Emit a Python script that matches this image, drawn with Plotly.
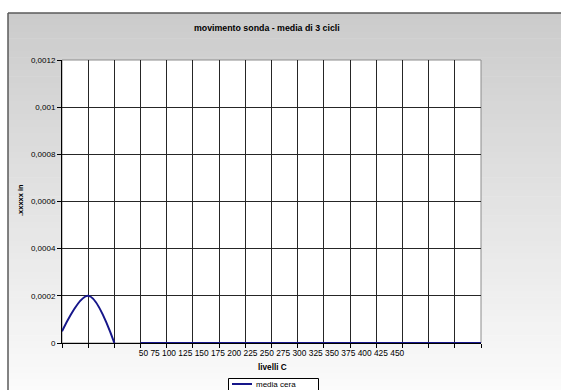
import plotly.graph_objects as go

# Livelli C: posizione di categoria (None = interruzione della linea)
livello_idx = [0, 1, 2, None, 3, 4, 5, 6, 7, 8, 9, 10, 11, 12, 13, 14, 15, 16]
media_cera = [0.00005, 0.0002, 0, None, 0, 0, 0, 0, 0, 0, 0, 0, 0, 0, 0, 0, 0, 0]
serie_nome = "media cera"

# Etichette dell'asse delle categorie
livelli_etichette = ["50", "75", "100", "125", "150", "175", "200", "225", "250",
                     "275", "300", "325", "350", "375", "400", "425", "450"]

y_ticks = [0, 0.0002, 0.0004, 0.0006, 0.0008, 0.001, 0.0012]
y_tick_text = ["0", "0,0002", "0,0004", "0,0006", "0,0008", "0,001", "0,0012"]

W, H = 561, 390
L, R, T, B = 62, 80, 60, 47
PW, PH = W - L - R, H - T - B


def px_x(px):
    return (px - L) / PW


def px_y(py):
    return (H - B - py) / PH


FONT = "Liberation Sans, Arial, Helvetica, sans-serif"
LINE_COLOR = "#16168a"
n_cat = 17
x_tickvals = list(range(n_cat))
x_ticktext = [""] * n_cat
x_ticktext[8] = " ".join(livelli_etichette)

fig = go.Figure()
fig.add_trace(go.Scatter(
    x=livello_idx, y=media_cera, mode="lines", name=serie_nome,
    line=dict(color=LINE_COLOR, width=2, shape="spline"),
    connectgaps=False, showlegend=False,
))

# Sfondo dell'area del grafico: sfumatura grigia verticale
shapes = []
top_px, bot_px = 13, 392
steps = 60
c_top, c_bot = 203, 251
for i in range(steps):
    y0 = top_px + (bot_px - top_px) * i / steps
    y1 = top_px + (bot_px - top_px) * (i + 1) / steps + 0.6
    c = round(c_top + (c_bot - c_top) * (i + 0.5) / steps)
    shapes.append(dict(type="rect", xref="paper", yref="paper",
                       x0=px_x(8), x1=px_x(W + 5), y0=px_y(y1), y1=px_y(y0),
                       fillcolor=f"rgb({c},{c},{c})", line=dict(width=0),
                       layer="below"))
# Area del tracciato bianca
shapes.append(dict(type="rect", xref="paper", yref="paper", x0=0, x1=1, y0=0, y1=1,
                   fillcolor="white", line=dict(color="#8c8c8c", width=1), layer="below"))
# Bordo dell'area del grafico
shapes.append(dict(type="line", xref="paper", yref="paper",
                   x0=px_x(8), x1=px_x(W + 5), y0=px_y(13), y1=px_y(13),
                   line=dict(color="#5a5a5a", width=1.5)))
shapes.append(dict(type="line", xref="paper", yref="paper",
                   x0=px_x(8), x1=px_x(8), y0=px_y(13), y1=px_y(H + 5),
                   line=dict(color="#5a5a5a", width=1.5)))
# Riquadro della legenda
shapes.append(dict(type="rect", xref="paper", yref="paper",
                   x0=px_x(228.5), x1=px_x(318.5), y0=px_y(H + 5), y1=px_y(378.5),
                   fillcolor="white", line=dict(color="black", width=1)))
shapes.append(dict(type="line", xref="paper", yref="paper",
                   x0=px_x(232), x1=px_x(252), y0=px_y(384), y1=px_y(384),
                   line=dict(color=LINE_COLOR, width=2)))

annotations = [
    dict(text="<b>movimento sonda - media di 3 cicli</b>", xref="paper", yref="paper",
         x=px_x(267), y=px_y(28), showarrow=False, font=dict(size=8.8, color="black", family=FONT),
         xanchor="center", yanchor="middle"),
    dict(text="<b>livelli C</b>", xref="paper", yref="paper",
         x=px_x(272), y=px_y(367), showarrow=False, font=dict(size=8.2, color="black", family=FONT),
         xanchor="center", yanchor="middle"),
    dict(text="<b>.xxxxx in</b>", xref="paper", yref="paper", textangle=-90,
         x=px_x(20), y=px_y(200), showarrow=False, font=dict(size=7.5, color="black", family=FONT),
         xanchor="center", yanchor="middle"),
    dict(text=serie_nome, xref="paper", yref="paper",
         x=px_x(254), y=px_y(384.5), showarrow=False, font=dict(size=8, color="black", family=FONT),
         xanchor="left", yanchor="middle"),
]

fig.update_layout(
    width=W, height=H,
    margin=dict(l=L, r=R, t=T, b=B, pad=0, autoexpand=False),
    paper_bgcolor="white", plot_bgcolor="rgba(0,0,0,0)",
    font=dict(family=FONT, size=8, color="black"),
    showlegend=False,
    shapes=shapes,
    annotations=annotations,
)
fig.update_xaxes(
    range=[0, 16], tickvals=x_tickvals, ticktext=x_ticktext, tickangle=0,
    showgrid=True, gridcolor="#262626", gridwidth=1,
    showline=True, linecolor="black", linewidth=1,
    ticks="outside", ticklen=4, tickcolor="black", ticklabelstandoff=-2,
    zeroline=False, tickfont=dict(size=8.4, family=FONT, color="black"),
)
fig.update_yaxes(
    range=[0, 0.0012], tickvals=y_ticks, ticktext=y_tick_text,
    showgrid=True, gridcolor="#262626", gridwidth=1,
    showline=True, linecolor="black", linewidth=1,
    ticks="outside", ticklen=4, tickcolor="black",
    zeroline=False, tickfont=dict(size=8, family=FONT, color="black"),
)

fig.write_html("out.html")
